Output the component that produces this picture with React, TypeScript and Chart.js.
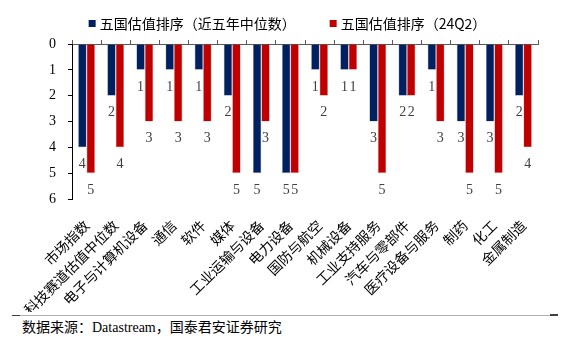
import React, { useEffect, useRef } from "react";
import { Chart, registerables } from "chart.js";

Chart.register(...registerables);

const categories = [
  "市场指数",
  "科技赛道估值中位数",
  "电子与计算机设备",
  "通信",
  "软件",
  "媒体",
  "工业运输与设备",
  "电力设备",
  "国防与航空",
  "机械设备",
  "工业支持服务",
  "汽车与零部件",
  "医疗设备与服务",
  "制药",
  "化工",
  "金属制造",
];
const medianRanks = [4, 2, 1, 1, 1, 2, 5, 5, 1, 1, 3, 2, 1, 3, 3, 2];
const q2Ranks = [5, 4, 3, 3, 3, 5, 3, 5, 2, 1, 5, 2, 3, 5, 5, 4];
const seriesNames = ["五国估值排序（近五年中位数）", "五国估值排序（24Q2）"];
const seriesColors = ["#002060", "#C00000"];
const yMin = 0;
const yMax = 6;
const sourceText = "数据来源：Datastream，国泰君安证券研究";

const CJK = '"Noto Sans CJK SC"';
const SERIF = '"Liberation Serif", "Noto Sans CJK SC"';

const valueLabels = {
  id: "valueLabels",
  afterDatasetsDraw(chart: any) {
    const ctx = chart.ctx;
    ctx.save();
    ctx.font = '14px "Liberation Serif"';
    ctx.fillStyle = "#404040";
    ctx.textAlign = "center";
    ctx.textBaseline = "middle";
    chart.data.datasets.forEach((ds: any, i: number) => {
      const meta = chart.getDatasetMeta(i);
      meta.data.forEach((el: any, j: number) => {
        ctx.fillText(String(ds.data[j]), el.x, el.y + 17);
      });
    });
    ctx.restore();
  },
};

const topLegend = {
  id: "topLegend",
  afterDraw(chart: any) {
    const ctx = chart.ctx;
    ctx.save();
    ctx.font = "14px " + CJK;
    ctx.textBaseline = "middle";
    ctx.textAlign = "left";
    const box = 7;
    const gapBoxText = 4;
    const gapItems = 34;
    const items = chart.data.datasets.map((ds: any) => ({
      text: ds.label,
      color: ds.backgroundColor,
      w: box + gapBoxText + ctx.measureText(ds.label).width,
    }));
    const total =
      items.reduce((s: number, it: any) => s + it.w, 0) + gapItems * (items.length - 1);
    let x = chart.width / 2 + 6 - total / 2;
    const y = 24;
    items.forEach((it: any) => {
      ctx.fillStyle = it.color;
      ctx.fillRect(x, y - 4, box, box);
      ctx.fillStyle = "#000";
      ctx.fillText(it.text, x + box + gapBoxText, y);
      x += it.w + gapItems;
    });
    ctx.restore();
  },
};

export default function App() {
  const ref = useRef<HTMLCanvasElement>(null);
  useEffect(() => {
    if (!ref.current) return;
    const chart = new Chart(ref.current, {
      type: "bar",
      data: {
        labels: categories,
        datasets: [
          {
            label: seriesNames[0],
            data: medianRanks,
            backgroundColor: seriesColors[0],
            borderColor: "#8a9bbd",
            borderWidth: 0.6,
          },
          {
            label: seriesNames[1],
            data: q2Ranks,
            backgroundColor: seriesColors[1],
            borderColor: "#e89a9a",
            borderWidth: 0.6,
          },
        ],
      },
      options: {
        responsive: false,
        animation: false,
        events: [],
        layout: { padding: { left: 8, right: 25, top: 41, bottom: 0 } },
        datasets: { bar: { categoryPercentage: 0.58, barPercentage: 1 } } as any,
        plugins: {
          legend: { display: false },
          tooltip: { enabled: false },
        },
        scales: {
          x: {
            position: "bottom",
            grid: { display: false },
            border: { display: false },
            ticks: {
              autoSkip: false,
              minRotation: 45,
              maxRotation: 45,
              padding: 10,
              color: "#000",
              font: { size: 14, family: CJK },
            },
            afterFit(s: any) {
              s.height = 113;
            },
          },
          xTop: {
            type: "category",
            position: "top",
            labels: categories,
            offset: true,
            grid: {
              offset: true,
              drawOnChartArea: false,
              drawTicks: true,
              tickLength: 4,
              color: "#595959",
            },
            border: { display: true, color: "#595959" },
            ticks: { display: false },
            afterFit(s: any) {
              s.height = 3;
            },
          },
          y: {
            reverse: true,
            min: yMin,
            max: yMax,
            ticks: {
              stepSize: 1,
              padding: 12,
              color: "#000",
              font: { size: 14, family: SERIF },
            },
            grid: { drawOnChartArea: false, tickLength: 4, color: "#000" },
            border: { display: true, color: "#000" },
            afterFit(s: any) {
              s.width = 64;
            },
          },
        } as any,
      },
      plugins: [valueLabels, topLegend],
    });
    return () => chart.destroy();
  }, []);

  return (
    <div
      style={{
        position: "fixed",
        left: 0,
        top: 0,
        width: 563,
        height: 339,
        background: "#fff",
      }}
    >
      <canvas ref={ref} width={563} height={312} style={{ display: "block" }} />
      <div
        style={{
          position: "absolute",
          left: 12,
          width: 546,
          top: 315,
          height: 0,
          borderTop: "1px solid #b0b0b0",
        }}
      />
      <div
        style={{
          position: "absolute",
          left: 12,
          width: 8,
          top: 315,
          height: 0,
          borderTop: "1px solid #404040",
        }}
      />
      <div
        style={{
          position: "absolute",
          left: 550,
          width: 8,
          top: 314,
          height: 0,
          borderTop: "2px solid #404040",
        }}
      />
      <div
        style={{
          position: "absolute",
          left: 22,
          top: 319,
          fontFamily: SERIF,
          fontSize: 14,
          lineHeight: "18px",
          color: "#000",
          whiteSpace: "nowrap",
        }}
      >
        {sourceText}
      </div>
    </div>
  );
}
